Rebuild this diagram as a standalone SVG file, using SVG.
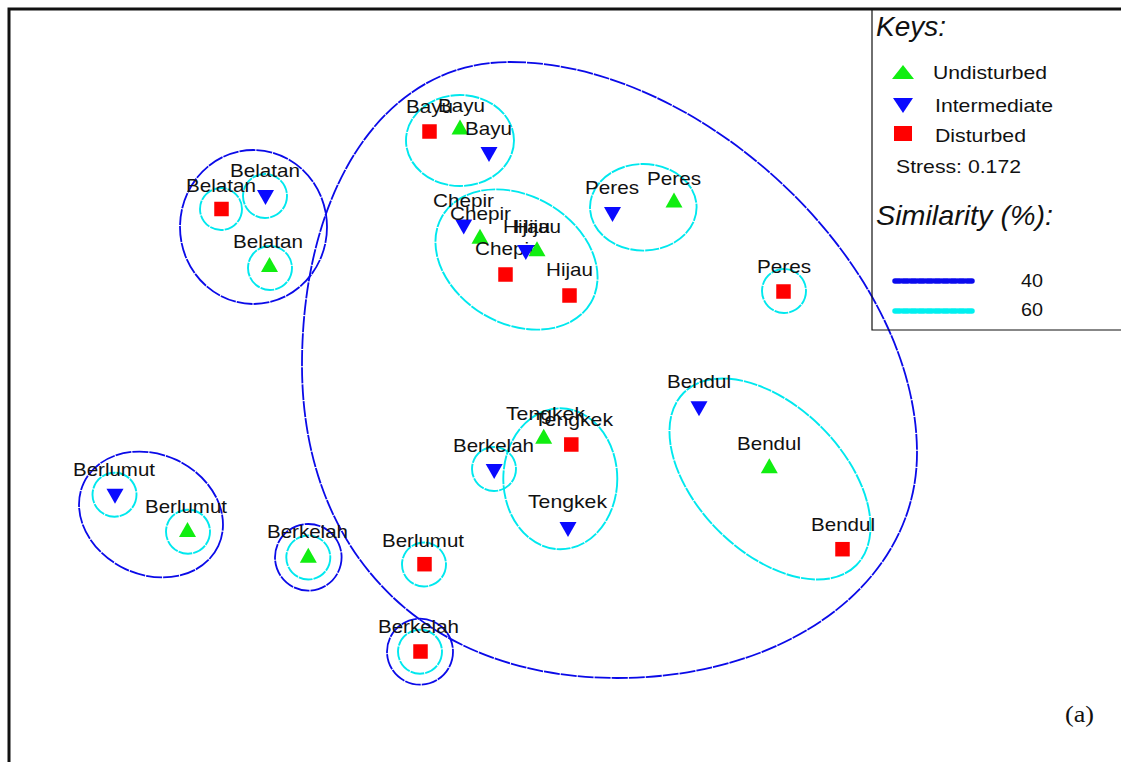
<svg xmlns="http://www.w3.org/2000/svg" xmlns:xlink="http://www.w3.org/1999/xlink" width="1121" height="762" viewBox="0 0 1121 762">
<style>
.lbl{font-family:"Liberation Sans",Arial,sans-serif;font-size:19px;fill:#111}
.key{font-family:"Liberation Sans",Arial,sans-serif;font-size:28px;font-style:italic;fill:#111}
.c60{fill:none;stroke:#00e8ee;stroke-width:1.9;stroke-dasharray:14 1}
.c40{fill:none;stroke:#0a0ae8;stroke-width:1.8;stroke-dasharray:16 1}
.up{fill:#11ee11}
.dn{fill:#0a0aff}
.sq{fill:#ff0000}
</style>
<defs>
<path id="tu" d="M-8.5,7.5 L8.5,7.5 L0,-7.5 Z"/>
<path id="td" d="M-8.5,-7.5 L8.5,-7.5 L0,7.5 Z"/>
<rect id="sq" x="-7.25" y="-7.25" width="14.5" height="14.5"/>
</defs>
<rect width="1121" height="762" fill="#fff"/>
<path d="M9,762 V9 H1121" fill="none" stroke="#111" stroke-width="3"/>

<g id="clusters">
<circle class="c60" cx="221" cy="209" r="21"/>
<circle class="c60" cx="265" cy="196" r="22"/>
<circle class="c60" cx="270" cy="268" r="22"/>
<ellipse class="c40" cx="253.5" cy="227" rx="73.5" ry="77"/>
<ellipse class="c60" cx="460" cy="140.5" rx="54" ry="45.5"/>
<ellipse class="c60" cx="0" cy="0" rx="86" ry="64" transform="translate(516.5,259.5) rotate(30)"/>
<ellipse class="c60" cx="643.3" cy="207.3" rx="53.3" ry="43.3"/>
<circle class="c60" cx="784" cy="291" r="22"/>
<circle class="c60" cx="494" cy="469" r="22"/>
<ellipse class="c60" cx="560.3" cy="478.8" rx="57" ry="70.5"/>
<ellipse class="c60" cx="0" cy="0" rx="122" ry="73" transform="translate(770,479) rotate(45)"/>
<circle class="c60" cx="114.5" cy="494.7" r="22"/>
<circle class="c60" cx="188" cy="531.7" r="22"/>
<ellipse class="c40" cx="0" cy="0" rx="74.3" ry="60.2" transform="translate(151,514.5) rotate(25)"/>
<circle class="c60" cx="308.3" cy="557.5" r="22"/>
<circle class="c40" cx="308.3" cy="557.3" r="33.3"/>
<circle class="c60" cx="424" cy="564.5" r="22"/>
<circle class="c60" cx="420" cy="651.7" r="22"/>
<circle class="c40" cx="420" cy="651.7" r="33"/>
<path class="c40" d="M510,62 C700,62 917,263 917,453 C917,583 787,678 617,678 C427,678 302,555 302,365 C302,195 380,62 510,62 Z"/>
</g>

<g id="belatan">
<use href="#sq" class="sq" x="221.5" y="209"/>
<use href="#td" class="dn" x="265.5" y="197.5"/>
<use href="#tu" class="up" x="269.5" y="264.5"/>
<text class="lbl" x="186" y="192" textLength="70" lengthAdjust="spacingAndGlyphs">Belatan</text>
<text class="lbl" x="230" y="177" textLength="70" lengthAdjust="spacingAndGlyphs">Belatan</text>
<text class="lbl" x="233" y="248" textLength="70" lengthAdjust="spacingAndGlyphs">Belatan</text>
</g>

<g id="bayu">
<use href="#sq" class="sq" x="429.5" y="131.5"/>
<use href="#tu" class="up" x="460" y="127"/>
<use href="#td" class="dn" x="489" y="154.5"/>
<text class="lbl" x="406" y="113" textLength="47" lengthAdjust="spacingAndGlyphs">Bayu</text>
<text class="lbl" x="438" y="112" textLength="47" lengthAdjust="spacingAndGlyphs">Bayu</text>
<text class="lbl" x="465" y="135" textLength="47" lengthAdjust="spacingAndGlyphs">Bayu</text>
</g>

<g id="chepir">
<use href="#td" class="dn" x="463.7" y="227"/>
<use href="#tu" class="up" x="480" y="236.3"/>
<use href="#sq" class="sq" x="505.5" y="274.5"/>
<text class="lbl" x="433" y="207" textLength="61" lengthAdjust="spacingAndGlyphs">Chepir</text>
<text class="lbl" x="450" y="220" textLength="61" lengthAdjust="spacingAndGlyphs">Chepir</text>
<text class="lbl" x="475" y="255" textLength="61" lengthAdjust="spacingAndGlyphs">Chepir</text>
</g>

<g id="hijau">
<use href="#tu" class="up" x="537" y="248.7"/>
<use href="#td" class="dn" x="525.8" y="252.5"/>
<use href="#sq" class="sq" x="569.5" y="295.5"/>
<text class="lbl" x="503" y="233" textLength="47" lengthAdjust="spacingAndGlyphs">Hijau</text>
<text class="lbl" x="514" y="233" textLength="47" lengthAdjust="spacingAndGlyphs">Hijau</text>
<text class="lbl" x="546" y="276" textLength="47" lengthAdjust="spacingAndGlyphs">Hijau</text>
</g>

<g id="peres">
<use href="#td" class="dn" x="612.5" y="214.5"/>
<use href="#tu" class="up" x="674" y="200"/>
<use href="#sq" class="sq" x="783.5" y="291.5"/>
<text class="lbl" x="585" y="194" textLength="54" lengthAdjust="spacingAndGlyphs">Peres</text>
<text class="lbl" x="647" y="185" textLength="54" lengthAdjust="spacingAndGlyphs">Peres</text>
<text class="lbl" x="757" y="273" textLength="54" lengthAdjust="spacingAndGlyphs">Peres</text>
</g>

<g id="tengkek">
<use href="#tu" class="up" x="543.7" y="436.3"/>
<use href="#sq" class="sq" x="571.3" y="444.5"/>
<use href="#td" class="dn" x="568" y="529.5"/>
<text class="lbl" x="506" y="420" textLength="79" lengthAdjust="spacingAndGlyphs">Tengkek</text>
<text class="lbl" x="534" y="426" textLength="79" lengthAdjust="spacingAndGlyphs">Tengkek</text>
<text class="lbl" x="528" y="508" textLength="79" lengthAdjust="spacingAndGlyphs">Tengkek</text>
</g>

<g id="bendul">
<use href="#td" class="dn" x="699" y="408.8"/>
<use href="#tu" class="up" x="769.3" y="465.8"/>
<use href="#sq" class="sq" x="842.5" y="549.2"/>
<text class="lbl" x="667" y="388" textLength="64" lengthAdjust="spacingAndGlyphs">Bendul</text>
<text class="lbl" x="737" y="450" textLength="64" lengthAdjust="spacingAndGlyphs">Bendul</text>
<text class="lbl" x="811" y="531" textLength="64" lengthAdjust="spacingAndGlyphs">Bendul</text>
</g>

<g id="berkelah">
<use href="#td" class="dn" x="494.2" y="471.5"/>
<use href="#tu" class="up" x="308.3" y="555.2"/>
<use href="#sq" class="sq" x="420.5" y="651.5"/>
<text class="lbl" x="453" y="452" textLength="81" lengthAdjust="spacingAndGlyphs">Berkelah</text>
<text class="lbl" x="267" y="538" textLength="81" lengthAdjust="spacingAndGlyphs">Berkelah</text>
<text class="lbl" x="378" y="633" textLength="81" lengthAdjust="spacingAndGlyphs">Berkelah</text>
</g>

<g id="berlumut">
<use href="#td" class="dn" x="115" y="496.3"/>
<use href="#tu" class="up" x="187.5" y="529.5"/>
<use href="#sq" class="sq" x="424.5" y="564.2"/>
<text class="lbl" x="73" y="476" textLength="82" lengthAdjust="spacingAndGlyphs">Berlumut</text>
<text class="lbl" x="145" y="513" textLength="82" lengthAdjust="spacingAndGlyphs">Berlumut</text>
<text class="lbl" x="382" y="547" textLength="82" lengthAdjust="spacingAndGlyphs">Berlumut</text>
</g>

<g id="legend">
<path d="M872,10 V330 H1121" fill="none" stroke="#111" stroke-width="1.2"/>
<text class="key" x="876" y="36">Keys:</text>
<path class="up" d="M892,79 L914,79 L903,65 Z"/>
<text class="lbl" x="933" y="79" textLength="114" lengthAdjust="spacingAndGlyphs">Undisturbed</text>
<path class="dn" d="M893,98 L913,98 L903,113 Z"/>
<text class="lbl" x="935" y="112" textLength="118" lengthAdjust="spacingAndGlyphs">Intermediate</text>
<rect class="sq" x="894" y="126" width="18" height="15"/>
<text class="lbl" x="935" y="142" textLength="91" lengthAdjust="spacingAndGlyphs">Disturbed</text>
<text class="lbl" x="896" y="173" textLength="125" lengthAdjust="spacingAndGlyphs">Stress: 0.172</text>
<text class="key" x="876" y="225" textLength="177" lengthAdjust="spacingAndGlyphs">Similarity (%):</text>
<line x1="895" y1="281" x2="973" y2="281" stroke="#0a0aee" stroke-width="5.5" stroke-linecap="round" stroke-dasharray="5 3"/>
<text class="lbl" x="1021" y="287" textLength="22" lengthAdjust="spacingAndGlyphs">40</text>
<line x1="895" y1="311" x2="973" y2="311" stroke="#00f0f0" stroke-width="5.5" stroke-linecap="round" stroke-dasharray="5 3"/>
<text class="lbl" x="1021" y="316" textLength="22" lengthAdjust="spacingAndGlyphs">60</text>
</g>

<text x="1065" y="722" font-family="'Liberation Serif','Times New Roman',serif" font-size="24" fill="#111" textLength="29" lengthAdjust="spacingAndGlyphs">(a)</text>
</svg>
